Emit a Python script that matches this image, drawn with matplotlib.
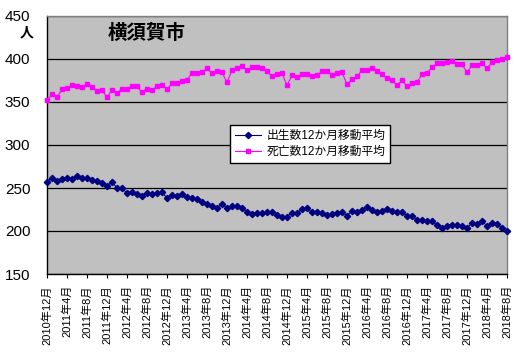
import matplotlib
matplotlib.use("Agg")
import matplotlib.pyplot as plt

plt.rcParams['font.family'] = ['Liberation Sans', 'Noto Sans CJK JP']

# monthly values, 2010年12月 .. 2018年8月 (93 months)
births = [257.0, 261.7, 258.2, 260.5, 261.7, 260.5, 264.1, 261.7, 261.7, 259.4,
          258.2, 255.9, 252.3, 257.0, 250.0, 250.0, 244.1, 245.3, 243.0, 240.6,
          244.1, 243.0, 244.1, 245.3, 238.3, 241.8, 240.6, 243.0, 239.5, 238.3,
          237.1, 233.2, 230.9, 228.5, 227.3, 230.9, 227.3, 228.5, 228.5, 226.2,
          222.3, 219.9, 221.1, 221.1, 222.3, 222.3, 218.8, 216.8, 216.8, 221.1,
          221.1, 225.0, 226.6, 222.3, 222.3, 221.1, 218.8, 219.9, 221.1, 222.3,
          218.0, 223.4, 222.3, 224.6, 228.1, 224.6, 222.3, 223.4, 225.8, 223.4,
          222.3, 222.3, 217.6, 217.6, 212.9, 212.9, 211.7, 211.7, 206.6, 203.5,
          205.5, 206.6, 206.6, 205.5, 203.5, 209.4, 208.2, 211.7, 205.9, 209.4,
          208.2, 203.5, 200.0]

deaths = [351.9, 358.9, 355.4, 364.7, 365.9, 369.4, 368.2, 367.1, 371.3, 367.1,
          362.4, 363.6, 355.8, 363.6, 360.1, 365.5, 365.5, 368.2, 368.2, 361.2,
          365.5, 363.6, 368.2, 369.4, 364.7, 371.7, 371.7, 374.0, 375.2, 384.1,
          383.5, 384.5, 389.1, 383.3, 385.7, 384.5, 372.9, 386.8, 389.1, 391.9,
          386.8, 390.7, 390.7, 389.1, 385.7, 379.8, 382.2, 383.3, 369.4, 381.0,
          378.7, 382.2, 382.2, 379.8, 381.0, 385.7, 385.7, 381.0, 383.3, 384.5,
          370.5, 376.4, 379.8, 386.8, 386.8, 389.1, 385.7, 382.2, 377.5, 375.2,
          369.4, 375.2, 368.2, 371.7, 372.9, 382.2, 383.3, 390.3, 395.0, 395.0,
          396.1, 397.3, 393.8, 393.8, 384.5, 392.6, 392.6, 395.0, 389.1, 396.1,
          398.4, 399.6, 401.9]

tick_labels = ['2010年12月', '2011年4月', '2011年8月', '2011年12月', '2012年4月',
               '2012年8月', '2012年12月', '2013年4月', '2013年8月', '2013年12月',
               '2014年4月', '2014年8月', '2014年12月', '2015年4月', '2015年8月',
               '2015年12月', '2016年4月', '2016年8月', '2016年12月', '2017年4月',
               '2017年8月', '2017年12月', '2018年4月', '2018年8月']

x = list(range(len(births)))

fig = plt.figure(figsize=(5.15, 3.52), dpi=100)
ax = fig.add_axes([47/515, 1 - 274/352, 460/515, 258/352])
ax.set_facecolor('#C0C0C0')

ax.plot(x, births, color='#000080', lw=0.8, marker='D', ms=3.2,
        label='出生数12か月移動平均', clip_on=False, zorder=3)
ax.plot(x, deaths, color='#FF00FF', lw=0.8, marker='s', ms=3.2,
        label='死亡数12か月移動平均', clip_on=False, zorder=3)

ax.set_xlim(0, len(births) - 1)
ax.set_ylim(150, 450)
ax.set_yticks(range(150, 451, 50))
ax.yaxis.grid(True, color='black', lw=0.9)
ax.set_axisbelow(True)
ax.set_xticks(range(0, len(births), 4))
ax.set_xticklabels(tick_labels, rotation=90, fontsize=8)
ax.tick_params(axis='x', length=3, pad=5, color='black')
ax.tick_params(axis='y', length=0, pad=12, labelsize=11)

for side in ['left', 'bottom']:
    ax.spines[side].set_color('black')
    ax.spines[side].set_linewidth(1)
for side in ['top', 'right']:
    ax.spines[side].set_color('#808080')
    ax.spines[side].set_linewidth(1)

ax.text(147/515, 1 - 33/352, '横須賀市', transform=fig.transFigure,
        ha='center', va='center', fontsize=14, fontweight='bold')
fig.text(27/515, 1 - 32/352, '人', ha='center', va='center',
         fontsize=10, fontweight='bold')

leg = ax.legend(loc='upper left', bbox_to_anchor=(230/515, 1 - 125/352),
                bbox_transform=fig.transFigure, borderaxespad=0,
                fontsize=8.5, frameon=True, fancybox=False, framealpha=1,
                edgecolor='black', handlelength=2.2, borderpad=0.4,
                labelspacing=0.35, handletextpad=0.5)
leg.get_frame().set_linewidth(1)
leg.set_zorder(5)

fig.savefig('out.png', dpi=100, facecolor='white')
